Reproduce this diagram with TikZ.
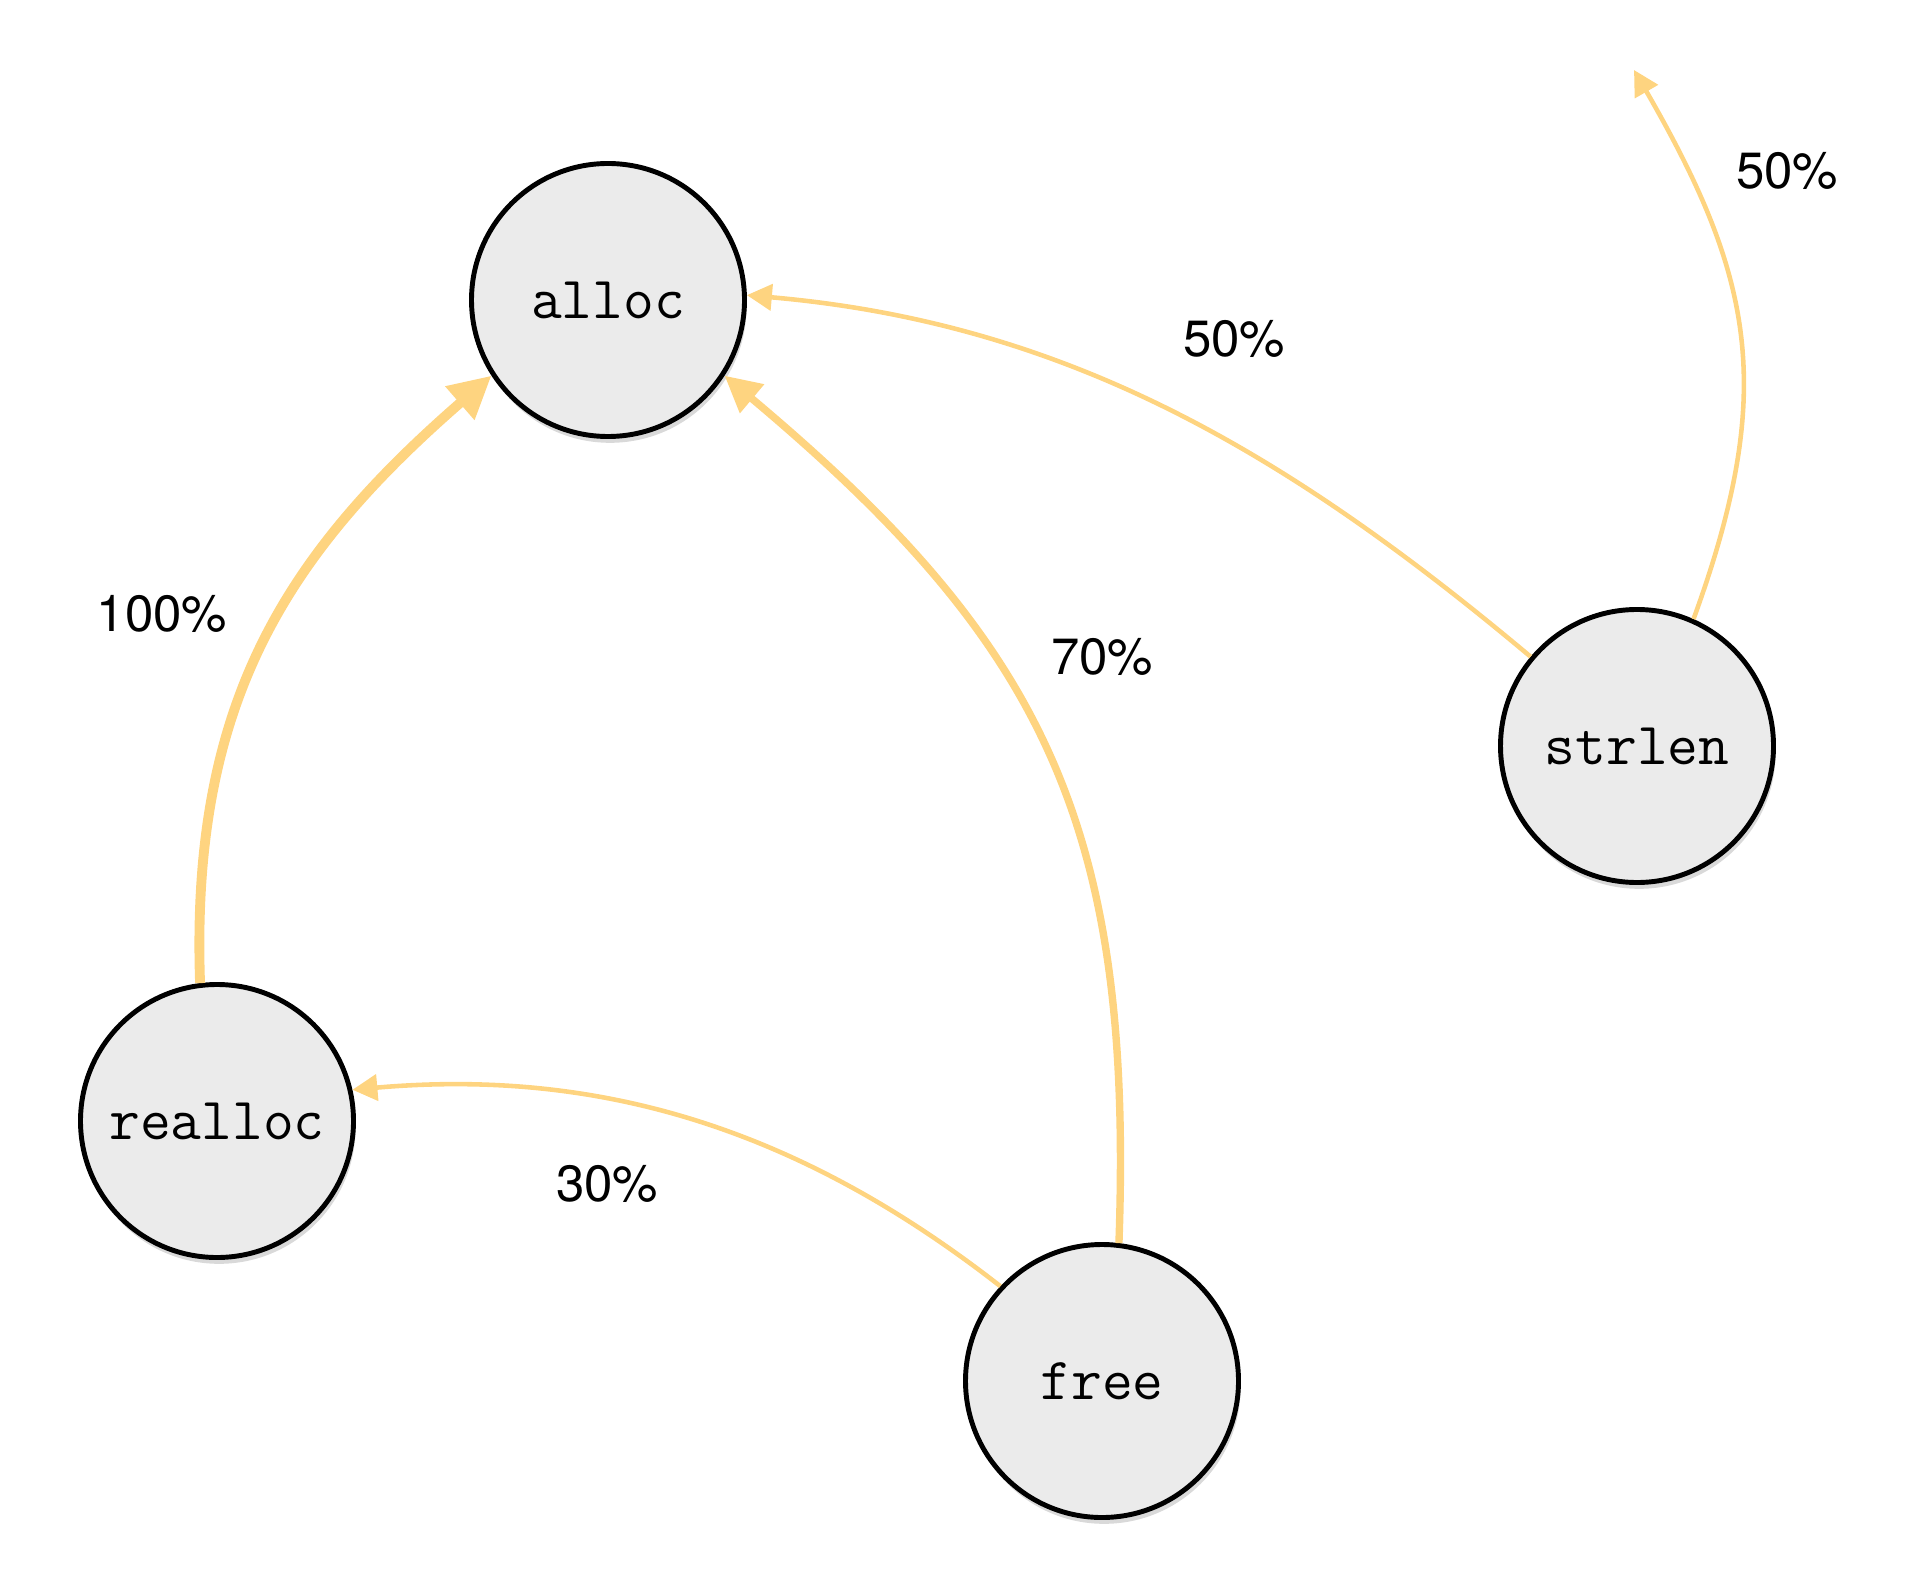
\documentclass[tikz,border=0pt]{standalone}
\usepackage{fontspec}
\setmainfont{TeX Gyre Heros}
\definecolor{callEdge}{RGB}{254, 212, 128}
\definecolor{fnFill}{RGB}{235, 235, 235}
\usetikzlibrary{arrows.meta, shadows}

\begin{document}
\begin{tikzpicture}[
    fn/.style={circle, draw=black, line width=1.4pt, fill=fnFill, minimum size=2.73cm, inner sep=0pt,
        font=\fontsize{17}{19}\selectfont\ttfamily,
        drop shadow={shadow xshift=0.6pt, shadow yshift=-1.8pt, opacity=0.3}},
    thinedge/.style={callEdge, line width=1.3pt, -{Triangle[length=0.25cm, width=0.26cm]}},
    midedge/.style={callEdge, line width=2.1pt, -{Triangle[length=0.36cm, width=0.36cm]}},
    fatedge/.style={callEdge, line width=2.8pt, -{Triangle[length=0.42cm, width=0.42cm]}},
    pct/.style={font=\fontsize{14.5}{17}\selectfont}
]
    \useasboundingbox (0,0) rectangle (19.26,15.78);

    % functions
    \node[fn] (alloc) at (6.08,12.78) {alloc};
    \node[fn] (strlen) at (16.37,8.32) {strlen};
    \node[fn] (realloc) at (2.17,4.57) {realloc};
    \node[fn] (free) at (11.02,1.97) {free};
    \coordinate (out) at (16.34,15.08);

    % calls
    \draw[fatedge] (realloc.97) to[out=92, in=221, looseness=1.05] (alloc.213);
    \draw[midedge] (free.83) to[out=88, in=-40, looseness=1.12] (alloc.327);
    \draw[thinedge] (free.137) to[out=142, in=5, looseness=0.95] (realloc.13);
    \draw[thinedge] (strlen.140) to[out=140, in=-5, looseness=0.95] (alloc.2);
    \draw[thinedge] (strlen.66) to[out=70, in=-60, looseness=1.12] (out);

    % percentages
    \node[pct] (p1) at (1.62,9.64) {100\%};
    \node[pct] (p2) at (11.02,9.21) {70\%};
    \node[pct] (p3) at (12.34,12.39) {50\%};
    \node[pct] (p4) at (17.87,14.07) {50\%};
    \node[pct] (p5) at (6.07,3.94) {30\%};
\end{tikzpicture}
\end{document}
